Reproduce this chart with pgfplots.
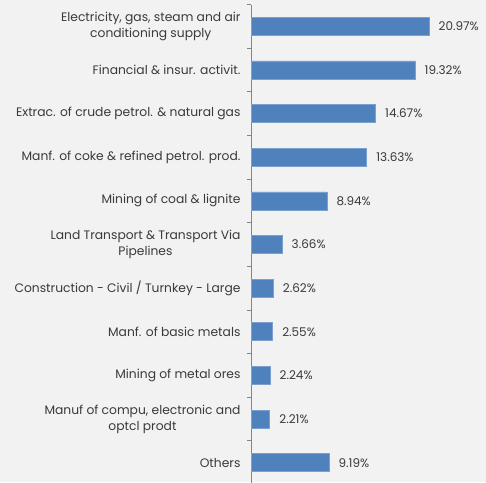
\documentclass[border=0pt]{standalone}
\usepackage{pgfplots}
\pgfplotsset{compat=1.18}
\usepackage{fontspec}
\setmainfont{Poppins}
\definecolor{bg}{HTML}{F2F2F2}
\definecolor{barblue}{HTML}{4F81BD}
\definecolor{txt}{HTML}{3A3A3A}
\definecolor{axisgray}{HTML}{868686}
\begin{document}
\begin{tikzpicture}
\fill[bg] (0,0) rectangle (486pt,-482pt);
\path[use as bounding box] (0,0) rectangle (486pt,-482pt);
\begin{axis}[
  at={(251pt,-4.5pt)}, anchor=north west,
  scale only axis, width=235pt, height=480pt,
  xmin=0, xmax=27.68,
  ymin=-0.5, ymax=10.5, y dir=reverse,
  axis x line=none,
  axis y line*=left,
  y axis line style={draw=axisgray, line width=0.8pt, -},
  xbar, bar width=18pt,
  ytick={0,...,10},
  yticklabels={{Electricity, gas, steam and air\\conditioning supply},
    {Financial \& insur. activit.},
    {Extrac. of crude petrol. \& natural gas},
    {Manf. of coke \& refined petrol. prod.},
    {Mining of coal \& lignite},
    {Land Transport \& Transport Via\\Pipelines},
    {Construction - Civil / Turnkey - Large},
    {Manf. of basic metals},
    {Mining of metal ores},
    {Manuf of compu, electronic and\\optcl prodt},
    {Others}},
  major tick length=0pt,
  minor ytick={-0.5,0.5,1.5,...,10.5},
  minor tick length=4pt,
  tick align=outside,
  minor tick style={draw=axisgray, line width=0.8pt},
  yticklabel style={align=center, font=\fontsize{12.3}{16}\selectfont, text=txt, xshift=-7pt},
  /pgf/number format/assume math mode=true,
  nodes near coords={\pgfmathprintnumber[fixed,zerofill,precision=2]{\pgfplotspointmeta}\%},
  point meta=x,
  nodes near coords style={font=\fontsize{12}{14}\selectfont, text=txt, anchor=west, xshift=6pt},
  clip=false,
]
\addplot[fill=barblue, draw=barblue!75!white, line width=0.6pt] coordinates {
(20.97,0) (19.32,1) (14.67,2) (13.63,3) (8.94,4) (3.66,5) (2.62,6) (2.55,7) (2.24,8) (2.21,9) (9.19,10)};
\end{axis}
\end{tikzpicture}
\end{document}
